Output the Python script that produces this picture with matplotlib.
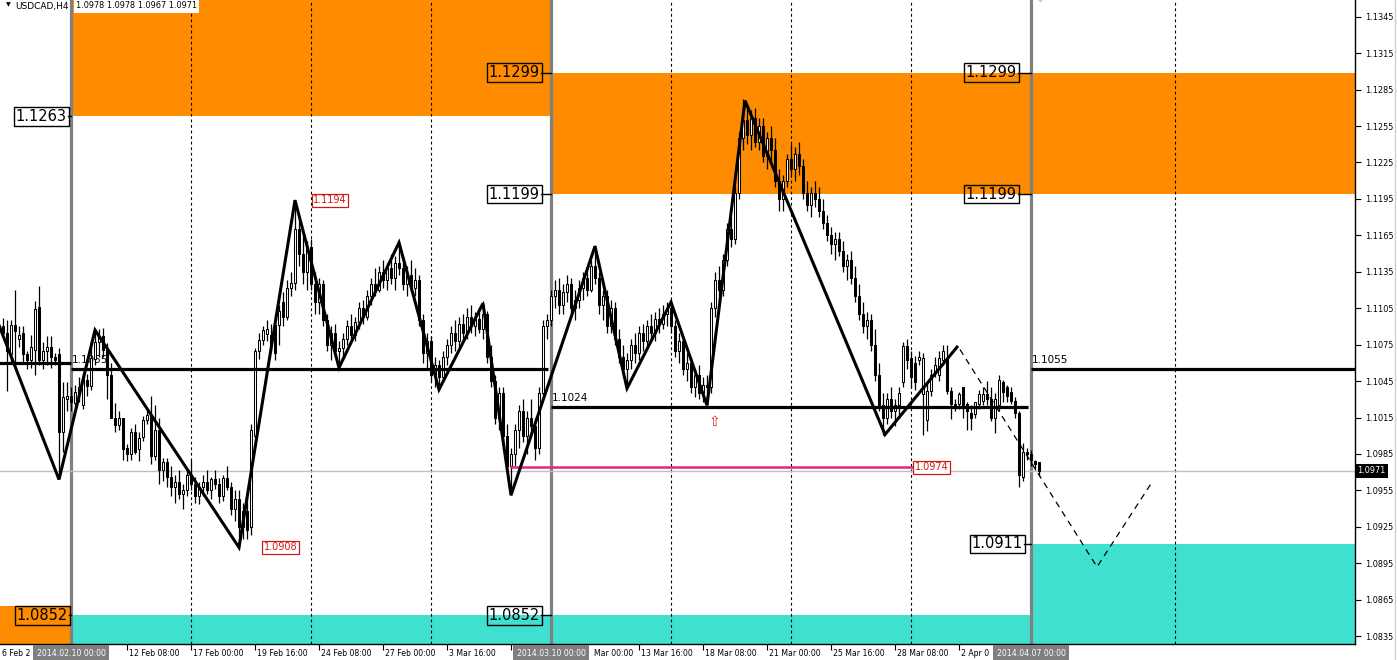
import matplotlib
matplotlib.use("Agg")
import matplotlib.pyplot as plt
from matplotlib.patches import Rectangle
import matplotlib.transforms as mtrans

W, H = 1397, 660

symbol = "USDCAD,H4"
header_ohlc = "1.0978 1.0978 1.0967 1.0971"

# ---- H4 candles (bar index 0 = 2014.02.10 00:00), prices in 1e-4 units ----
first_bar = -17
opens = [
    11090, 11085, 11067, 11091, 11080, 11085, 11067, 11062, 11071, 11106,
    11062, 11070, 11073, 11065, 11067, 11003, 11030, 11033, 11027, 11034,
    11025, 11046, 11041, 11063, 11077, 11082, 11071, 11050, 11015, 11009,
    11015, 10990, 10985, 11003, 10989, 10999, 11013, 11017, 10983, 11005,
    10972, 10978, 10966, 10958, 10962, 10952, 10955, 10968, 10960, 10950,
    10958, 10962, 10955, 10964, 10960, 10950, 10965, 10958, 10940, 10948,
    10925, 10938, 10925, 11000, 11070, 11079, 11084, 11083, 11091, 11091,
    11110, 11098, 11122, 11126, 11170, 11150, 11135, 11155, 11125, 11110,
    11125, 11095, 11075, 11085, 11070, 11072, 11080, 11090, 11083, 11094,
    11105, 11098, 11115, 11125, 11120, 11135, 11128, 11138, 11130, 11142,
    11138, 11125, 11132, 11122, 11128, 11095, 11068, 11078, 11050, 11058,
    11048, 11065, 11075, 11085, 11078, 11092, 11085, 11098, 11090, 11096,
    11088, 11100, 11065, 11045, 11015, 11035, 11000, 10975, 10985, 11005,
    11020, 11000, 11015, 11008, 10990, 11035, 11090, 11095, 11115, 11120,
    11108, 11118, 11125, 11105, 11112, 11122, 11130, 11120, 11140, 11130,
    11108, 11115, 11090, 11105, 11080, 11065, 11055, 11062, 11075, 11068,
    11085, 11078, 11090, 11085, 11096, 11092, 11100, 11105, 11090, 11070,
    11078, 11055, 11060, 11040, 11050, 11035, 11042, 11040, 11105, 11128,
    11120, 11145, 11170, 11162, 11200, 11245, 11260, 11248, 11262, 11242,
    11255, 11230, 11245, 11235, 11210, 11195, 11210, 11228, 11220, 11232,
    11222, 11200, 11190, 11200, 11195, 11185, 11175, 11165, 11158, 11162,
    11152, 11140, 11145, 11130, 11115, 11100, 11090, 11095, 11075, 11050,
    11025, 11015, 11030, 11020, 11025, 11044, 11074, 11064, 11060, 11062,
    11034, 11013, 11037, 11052, 11050, 11062, 11064, 11037, 11026, 11026,
    11040, 11026, 11019, 11018, 11026, 11029, 11034, 11030, 11015, 11025,
    11044, 11040, 11036, 11029, 11019, 10966, 10987, 10985, 10979, 10978,
]
highs = [
    11097, 11095, 11095, 11120, 11090, 11090, 11070, 11083, 11111, 11123,
    11077, 11082, 11082, 11068, 11072, 11044, 11044, 11040, 11042, 11048,
    11052, 11051, 11075, 11089, 11088, 11089, 11076, 11060, 11027, 11020,
    11015, 10993, 11006, 11010, 11003, 11016, 11020, 11033, 11025, 11015,
    10982, 10982, 10975, 10968, 10972, 10960, 10972, 10980, 10966, 10962,
    10968, 10972, 10966, 10972, 10965, 10968, 10975, 10962, 10955, 10955,
    10945, 10950, 11010, 11072, 11085, 11090, 11095, 11092, 11100, 11108,
    11118, 11128, 11135, 11194, 11180, 11165, 11160, 11162, 11135, 11130,
    11128, 11100, 11090, 11092, 11078, 11085, 11095, 11100, 11098, 11110,
    11112, 11120, 11130, 11138, 11140, 11145, 11142, 11150, 11148, 11160,
    11148, 11140, 11145, 11138, 11132, 11100, 11085, 11082, 11065, 11062,
    11070, 11080, 11090, 11095, 11098, 11100, 11105, 11108, 11102, 11105,
    11111, 11103, 11075, 11050, 11040, 11040, 11010, 10990, 11010, 11025,
    11030, 11020, 11030, 11015, 11040, 11095, 11100, 11120, 11128, 11130,
    11125, 11132, 11130, 11120, 11128, 11135, 11140, 11145, 11157, 11135,
    11120, 11120, 11112, 11110, 11088, 11075, 11068, 11080, 11085, 11090,
    11092, 11095, 11100, 11102, 11105, 11108, 11110, 11112, 11095, 11085,
    11082, 11068, 11065, 11055, 11058, 11048, 11050, 11110, 11135, 11140,
    11150, 11175, 11180, 11205, 11250, 11277, 11272, 11268, 11270, 11262,
    11262, 11250, 11255, 11245, 11220, 11215, 11232, 11240, 11238, 11242,
    11228, 11210, 11205, 11210, 11205, 11195, 11182, 11172, 11168, 11168,
    11160, 11150, 11152, 11140, 11125, 11110, 11102, 11100, 11088, 11060,
    11035, 11035, 11040, 11030, 11040, 11077, 11080, 11070, 11066, 11070,
    11068, 11044, 11055, 11065, 11070, 11075, 11075, 11040, 11030, 11036,
    11040, 11028, 11025, 11028, 11038, 11040, 11045, 11040, 11035, 11050,
    11046, 11042, 11040, 11032, 11020, 10994, 10990, 10988, 10980, 10978,
]
lows = [
    11081, 11037, 11060, 11056, 11073, 11060, 11055, 11056, 11050, 11058,
    11055, 11058, 11056, 11058, 10964, 10987, 11020, 11020, 11023, 11028,
    11022, 11033, 11038, 11058, 11065, 11065, 11030, 11015, 11003, 11005,
    10980, 10979, 10980, 10985, 10979, 10996, 11010, 10977, 10980, 10960,
    10963, 10958, 10950, 10945, 10948, 10940, 10950, 10955, 10945, 10944,
    10950, 10952, 10948, 10956, 10945, 10946, 10955, 10935, 10930, 10908,
    10915, 10915, 10918, 10995, 11063, 11075, 11078, 11070, 11062, 11075,
    11090, 11095, 11115, 11120, 11140, 11125, 11120, 11120, 11100, 11100,
    11090, 11070, 11062, 11065, 11056, 11062, 11075, 11078, 11078, 11088,
    11092, 11095, 11108, 11115, 11118, 11122, 11120, 11125, 11120, 11132,
    11120, 11115, 11118, 11115, 11090, 11060, 11055, 11045, 11040, 11038,
    11045, 11058, 11068, 11070, 11072, 11080, 11080, 11085, 11082, 11085,
    11080, 11060, 11040, 11010, 11005, 10995, 10970, 10951, 10975, 10990,
    10995, 10985, 11000, 10980, 10985, 11030, 11080, 11090, 11105, 11100,
    11100, 11110, 11100, 11095, 11105, 11112, 11115, 11118, 11125, 11100,
    11095, 11085, 11085, 11075, 11060, 11048, 11039, 11055, 11060, 11062,
    11070, 11072, 11080, 11078, 11085, 11088, 11090, 11085, 11065, 11060,
    11050, 11045, 11035, 11032, 11030, 11028, 11025, 11035, 11098, 11110,
    11115, 11140, 11155, 11158, 11195, 11235, 11240, 11235, 11238, 11235,
    11225, 11220, 11225, 11205, 11185, 11185, 11205, 11215, 11210, 11215,
    11195, 11185, 11180, 11188, 11180, 11170, 11160, 11150, 11145, 11148,
    11135, 11128, 11125, 11110, 11095, 11085, 11080, 11070, 11045, 11020,
    11001, 11010, 11015, 11008, 11015, 11040, 11055, 11040, 11038, 11058,
    11001, 11004, 11033, 11048, 11045, 11058, 11034, 11014, 11020, 11022,
    11015, 11005, 11005, 11015, 11022, 11025, 11025, 11012, 11002, 11020,
    11028, 11028, 11026, 11015, 10958, 10963, 10980, 10975, 10972, 10967,
]
closes = [
    11085, 11070, 11091, 11086, 11083, 11067, 11062, 11073, 11104, 11062,
    11070, 11073, 11065, 11062, 11003, 11032, 11033, 11028, 11036, 11040,
    11048, 11041, 11064, 11077, 11082, 11071, 11050, 11015, 11009, 11015,
    10989, 10985, 11003, 10987, 10998, 11013, 11017, 10983, 11005, 10972,
    10978, 10966, 10958, 10962, 10952, 10955, 10968, 10960, 10950, 10958,
    10962, 10955, 10964, 10960, 10950, 10965, 10958, 10940, 10948, 10925,
    10938, 10922, 11005, 11070, 11079, 11087, 11088, 11075, 11068, 11103,
    11098, 11122, 11126, 11170, 11150, 11135, 11155, 11125, 11110, 11125,
    11095, 11075, 11085, 11070, 11072, 11080, 11090, 11083, 11094, 11105,
    11098, 11115, 11125, 11120, 11135, 11128, 11138, 11130, 11142, 11138,
    11125, 11132, 11122, 11128, 11095, 11068, 11078, 11050, 11058, 11048,
    11065, 11075, 11085, 11078, 11092, 11085, 11098, 11090, 11096, 11088,
    11100, 11065, 11045, 11015, 11035, 11000, 10975, 10985, 11005, 11020,
    11000, 11015, 11008, 10990, 11035, 11090, 11095, 11115, 11120, 11108,
    11118, 11125, 11105, 11112, 11122, 11130, 11120, 11140, 11130, 11108,
    11115, 11090, 11105, 11080, 11065, 11055, 11062, 11075, 11068, 11085,
    11078, 11090, 11085, 11096, 11092, 11100, 11105, 11090, 11070, 11078,
    11055, 11060, 11040, 11050, 11035, 11042, 11040, 11105, 11128, 11120,
    11145, 11170, 11162, 11200, 11245, 11260, 11248, 11262, 11242, 11255,
    11230, 11245, 11235, 11210, 11195, 11210, 11228, 11220, 11232, 11222,
    11200, 11190, 11200, 11195, 11185, 11175, 11165, 11158, 11162, 11152,
    11140, 11145, 11130, 11115, 11100, 11090, 11095, 11075, 11050, 11025,
    11015, 11030, 11020, 11025, 11035, 11074, 11062, 11048, 11044, 11065,
    11064, 11037, 11050, 11058, 11064, 11070, 11037, 11026, 11025, 11034,
    11023, 11020, 11015, 11028, 11034, 11034, 11030, 11015, 11030, 11046,
    11036, 11033, 11029, 11019, 10968, 10987, 10985, 10980, 10977, 10971,
]
PIP = 10000.0

# ---- ZigZag and projection ----
zz_bars = [-18, -3, 6, 42, 56, 67, 82, 92, 103, 110, 131, 139, 150, 159, 168.5, 203.5, 221.5]
zz_prices = [1.1091, 1.0964, 1.1087, 1.0908, 1.1194, 1.1056, 1.1159, 1.1038, 1.1109,
             1.0951, 1.1156, 1.1039, 1.1110, 1.1025, 1.1276, 1.1001, 1.1073]
proj_bars = [222.25, 256.5, 270.5]
proj_prices = [1.1071, 1.0892, 1.0963]

# ---- zones: (bar_from, bar_to, price_low, price_high, colour) ----
ORANGE = "#FF8C00"
TEAL = "#40E0D0"
zones = [
    (0, 120, 1.1263, 1.1500, ORANGE),
    (-30, 0, 1.0700, 1.0860, ORANGE),
    (0, 240, 1.0700, 1.0852, TEAL),
    (120, 240, 1.1199, 1.1299, ORANGE),
    (240, 340, 1.1199, 1.1299, ORANGE),
    (240, 340, 1.0700, 1.0911, TEAL),
]
# zone price labels: (text, right-edge bar, price, separator bar)
zone_labels = [
    ("1.1263", -0.75, 1.1263, 0),
    ("1.0852", -0.5, 1.0852, 0),
    ("1.1299", 117.5, 1.1299, 120),
    ("1.1199", 117.5, 1.1199, 120),
    ("1.0852", 117.5, 1.0852, 120),
    ("1.1299", 236.75, 1.1299, 240),
    ("1.1199", 236.75, 1.1199, 240),
    ("1.0911", 238.25, 1.0911, 240),
]
# pivot levels: (bar_from, bar_to, price, label)
levels = [
    (-30, 0, 1.1060, None),
    (0, 119.3, 1.1055, "1.1055"),
    (120, 239.3, 1.1024, "1.1024"),
    (240, 340, 1.1055, "1.1055"),
]
pink_level = (110, 210.25, 1.0974)
red_labels = [("1.1194", 60.2, 1.1194), ("1.0908", 47.8, 1.0908), ("1.0974", 210.5, 1.0974)]
arrow_pos = (160.75, 1.1011)
current_price = 1.0971

separators = [0, 120, 240]
separator_texts = ["2014.02.10 00:00", "2014.03.10 00:00", "2014.04.07 00:00"]
dotted = [30, 60, 90, 150, 180, 210, 276]
tick_bars = [14, 30, 46, 62, 78, 94, 110, 126, 142, 158, 174, 190, 206, 222, 238]
# visible parts of the time labels (others are covered by the separator date boxes)
label_bars = [-17.75, 14, 30, 46, 62, 78, 94, 130.3, 142, 158, 174, 190, 206, 222]
label_texts = ["6 Feb 2", "12 Feb 08:00", "17 Feb 00:00", "19 Feb 16:00", "24 Feb 08:00",
               "27 Feb 00:00", "3 Mar 16:00", "Mar 00:00", "13 Mar 16:00", "18 Mar 08:00",
               "21 Mar 00:00", "25 Mar 16:00", "28 Mar 08:00", "2 Apr 0"]
y_ticks = [1.0835 + 0.003 * k for k in range(18)]

# ================= drawing =================
plt.rcParams["font.family"] = ["DejaVu Sans"]
fig = plt.figure(figsize=(W / 100, H / 100), dpi=100)
fig.patch.set_facecolor("white")
ax = fig.add_axes([0, 16 / H, 1355 / W, 644 / H])
ax.set_xlim(-17.75, 321.0)
ax.set_ylim(1.08285, 1.13588)

for b0, b1, p0, p1, col in zones:
    ax.add_patch(Rectangle((b0, p0), b1 - b0, p1 - p0, fc=col, ec="none", zorder=1))

for d in dotted:
    ax.axvline(d, color="black", lw=0.8, ls=(0, (2.5, 2.5)), zorder=2)
for s in separators:
    ax.axvline(s, color="#808080", lw=2.3, zorder=2.2)

ax.axhline(current_price, color="#C0C0C0", lw=1.0, zorder=2.5)

for b0, b1, p, lab in levels:
    ax.plot([b0, b1], [p, p], color="black", lw=2.3, solid_capstyle="butt", zorder=5)
    if lab:
        ax.text(b0 + 0.3, p + 0.0003, lab, fontsize=7.5, color="black",
                ha="left", va="bottom", zorder=3.5)

ax.plot([pink_level[0], pink_level[1]], [pink_level[2]] * 2, color="#E0287E", lw=1.8, zorder=5)

# candles
for i in range(len(closes)):
    b = first_bar + i
    o, h, l, c = opens[i] / PIP, highs[i] / PIP, lows[i] / PIP, closes[i] / PIP
    ax.vlines(b, l, h, color="black", lw=0.9, zorder=4)
    bot = min(o, c)
    ht = max(abs(c - o), 0.00004)
    fc = "white" if c > o else "black"
    ax.add_patch(Rectangle((b - 0.36, bot), 0.72, ht, fc=fc, ec="black", lw=0.75, zorder=4.5))

ax.plot(zz_bars, zz_prices, color="black", lw=2.2, zorder=6, solid_joinstyle="miter")
ax.plot(proj_bars, proj_prices, color="black", lw=0.9, ls=(0, (5, 4)), zorder=6)

# zone labels with boxes
for txt, bx, p, sep in zone_labels:
    ax.plot([bx, sep], [p, p], color="black", lw=1.0, zorder=7)
    ax.text(bx - 0.3, p, txt, fontsize=10.5, ha="right", va="center", color="black", zorder=7,
            bbox=dict(boxstyle="square,pad=0.12", fc="none", ec="black", lw=1.0))

for txt, bx, p in red_labels:
    ax.text(bx + 0.4, p, txt, fontsize=7, ha="left", va="center", color="#D01818", zorder=7,
            bbox=dict(boxstyle="square,pad=0.15", fc="white", ec="#D01818", lw=0.9))

ax.text(arrow_pos[0], arrow_pos[1], "\u21e7", fontsize=10, color="#E02020",
        ha="center", va="center", zorder=7)

# axes styling
for sp in ["top", "left"]:
    ax.spines[sp].set_visible(False)
for sp in ["right", "bottom"]:
    ax.spines[sp].set_color("black")
    ax.spines[sp].set_linewidth(1.0)
    ax.spines[sp].set_zorder(10)
ax.yaxis.tick_right()
ax.set_yticks(y_ticks)
ax.set_yticklabels([f"{v:.4f}" for v in y_ticks], fontsize=5.9)
ax.tick_params(axis="y", direction="out", length=4, width=0.8, pad=3)
ax.set_xticks(tick_bars)
ax.set_xticklabels([])
ax.tick_params(axis="x", direction="out", length=4, width=0.8)

trans_x = mtrans.blended_transform_factory(ax.transData, fig.transFigure)
label_y = 1 - 653 / H
for b, t in zip(label_bars, label_texts):
    ax.text(b + 0.4, label_y, t, fontsize=5.6, ha="left", va="center", transform=trans_x,
            clip_on=False, zorder=11)
for s, t in zip(separators, separator_texts):
    ax.text(s, label_y, t, fontsize=5.6, ha="center", va="center", color="white",
            transform=trans_x, clip_on=False, zorder=12,
            bbox=dict(boxstyle="square,pad=0.5", fc="#7F7F7F", ec="none"))

trans_y = mtrans.blended_transform_factory(ax.transAxes, ax.transData)
ax.text(1.0015, current_price, f"{current_price:.4f}", fontsize=5.9, color="white",
        ha="left", va="center", transform=trans_y, clip_on=False, zorder=12,
        bbox=dict(boxstyle="square,pad=0.3", fc="black", ec="none"))

# header
fig.text(8 / W, 1 - 5 / H, "\u25bc", fontsize=4.5, ha="center", va="center")
fig.text(15 / W, 1 - 6 / H, symbol, fontsize=6.5, ha="left", va="center")
fig.text(76 / W, 1 - 6 / H, header_ohlc, fontsize=5.9, ha="left", va="center", zorder=20,
         bbox=dict(boxstyle="square,pad=0.25", fc="white", ec="none"))
ax.plot([242.25], [1.1362], marker="D", ms=5, color="#C8C8C8", clip_on=False, zorder=8)

fig.add_artist(plt.Line2D([1394.5 / W, 1394.5 / W], [0, 1], color="#D0D0D0", lw=1.0))

fig.savefig("out.png", dpi=100, facecolor="white")
